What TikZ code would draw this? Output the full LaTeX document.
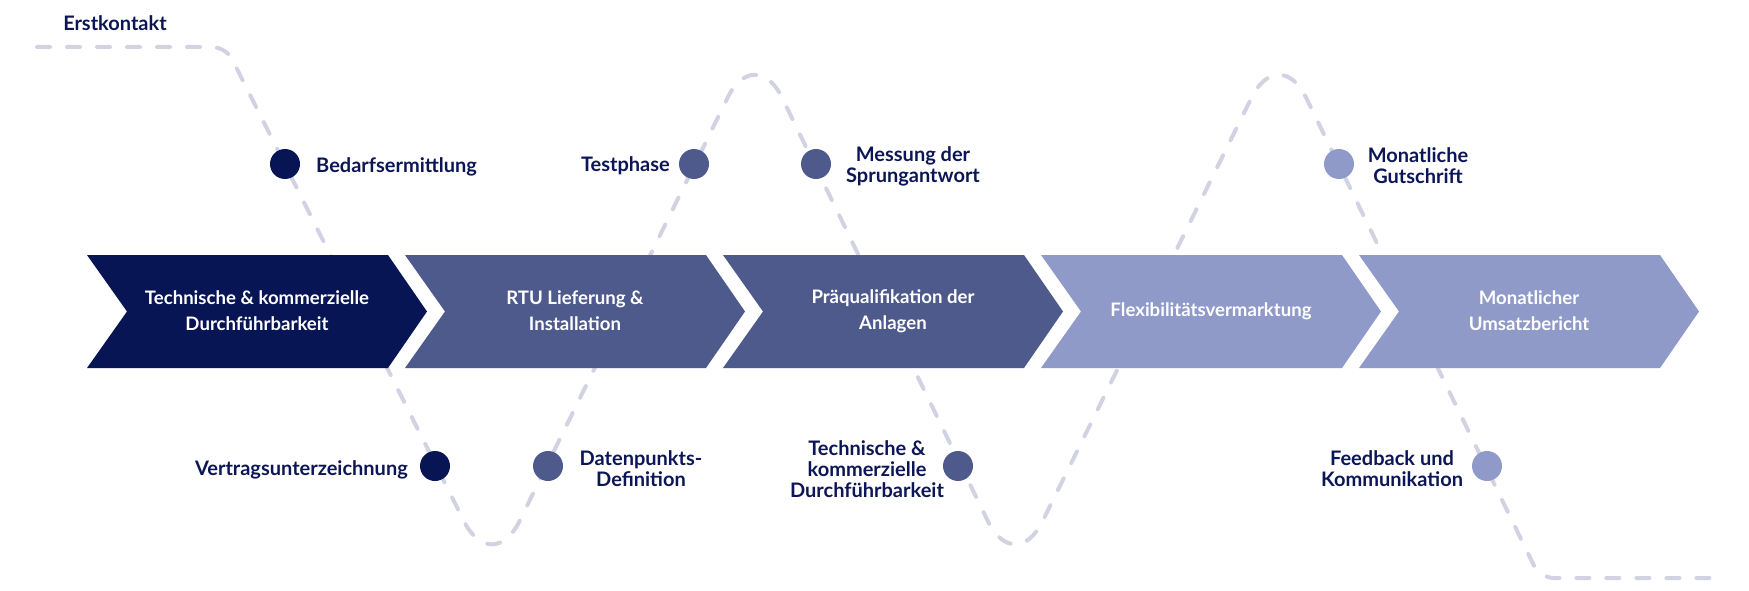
\documentclass[tikz,border=0pt]{standalone}
\usepackage{fontspec}
\setmainfont{Lato}
\usetikzlibrary{calc}
\definecolor{navy}{HTML}{081555}
\definecolor{slate}{HTML}{4E5A8C}
\definecolor{lav}{HTML}{8F9AC8}
\definecolor{wavec}{HTML}{D1D3E2}
\definecolor{txt}{HTML}{0C1656}
\begin{document}
\begin{tikzpicture}[x=1pt,y=-1pt,
  wave/.style={draw=wavec,line width=4pt,dash pattern=on 13pt off 17pt,line cap=round},
  dot/.style={circle,minimum size=30pt,inner sep=0pt,draw=none},
  lbl/.style={inner sep=0pt,text=txt,font=\bfseries\fontsize{20}{21}\selectfont,align=center},
  chtext/.style={inner sep=0pt,text=white,font=\bfseries\fontsize{18.6}{26}\selectfont,align=center}]
\useasboundingbox (0,0) rectangle (1749,591);
% wave path
\coordinate (w0) at (37,47);
\coordinate (w1) at (226,47);
\coordinate (w2) at (492,577);
\coordinate (w3) at (755,42);
\coordinate (w4) at (1015,577);
\coordinate (w5) at (1279,42);
\coordinate (w6) at (1540,578);
\coordinate (w7) at (1712,578);
\draw[wave] (w0) -- ($(w1)!14pt!(w0)$) .. controls ($(w1)!6pt!(w0)$) and ($(w1)!6pt!(w2)$) .. ($(w1)!14pt!(w2)$)
 -- ($(w2)!62pt!(w1)$) .. controls ($(w2)!28pt!(w1)$) and ($(w2)!28pt!(w3)$) .. ($(w2)!62pt!(w3)$)
 -- ($(w3)!62pt!(w2)$) .. controls ($(w3)!28pt!(w2)$) and ($(w3)!28pt!(w4)$) .. ($(w3)!62pt!(w4)$)
 -- ($(w4)!62pt!(w3)$) .. controls ($(w4)!28pt!(w3)$) and ($(w4)!28pt!(w5)$) .. ($(w4)!62pt!(w5)$)
 -- ($(w5)!62pt!(w4)$) .. controls ($(w5)!28pt!(w4)$) and ($(w5)!28pt!(w6)$) .. ($(w5)!62pt!(w6)$)
 -- ($(w6)!14pt!(w5)$) .. controls ($(w6)!6pt!(w5)$) and ($(w6)!6pt!(w7)$) .. ($(w6)!14pt!(w7)$)
 -- (w7);
% chevrons
\foreach \k/\c in {0/navy,1/slate,2/slate,3/lav,4/lav}{
  \pgfmathsetmacro\L{87+318*\k}
  \fill[\c] (\L,255) -- ({\L+301},255) -- ({\L+340},311.5) -- ({\L+301},368) -- (\L,368) -- ({\L+40},311.5) -- cycle;
}
\node[chtext] (c1) at (257,311) {Technische \& kommerzielle\\Durchführbarkeit};
\node[chtext] (c2) at (575,311) {RTU Lieferung \&\\Installation};
\node[chtext] (c3) at (893,311) {Präqualifikation der\\Anlagen};
\node[chtext] (c4) at (1211,311) {Flexibilitätsvermarktung};
\node[chtext] (c5) at (1529,311) {Monatlicher\\Umsatzbericht};
% dots
\node[dot,fill=navy] (d1) at (285,164) {};
\node[dot,fill=navy] (d2) at (435,466) {};
\node[dot,fill=slate] (d3) at (548,466) {};
\node[dot,fill=slate] (d4) at (694,164) {};
\node[dot,fill=slate] (d5) at (816,164) {};
\node[dot,fill=slate] (d6) at (958,466) {};
\node[dot,fill=lav] (d7) at (1339,164) {};
\node[dot,fill=lav] (d8) at (1487,466) {};
% labels
\node[lbl] (erst) at (115,23) {Erstkontakt};
\node[lbl,anchor=west] (bedarf) at (316,167) {Bedarfsermittlung};
\node[lbl,anchor=east] (vertrag) at (408,470) {Vertragsunterzeichnung};
\node[lbl,anchor=east] (test) at (670,166) {Testphase};
\node[lbl] (daten) at (641,469) {Datenpunkts-\\Definition};
\node[lbl] (mess) at (913,166) {Messung der\\Sprungantwort};
\node[lbl] (tech) at (867,469) {Technische \&\\kommerzielle\\Durchführbarkeit};
\node[lbl] (monat) at (1418,166) {Monatliche\\Gutschrift};
\node[lbl] (feed) at (1392,469) {Feedback und\\Kommunikation};
\end{tikzpicture}
\end{document}
